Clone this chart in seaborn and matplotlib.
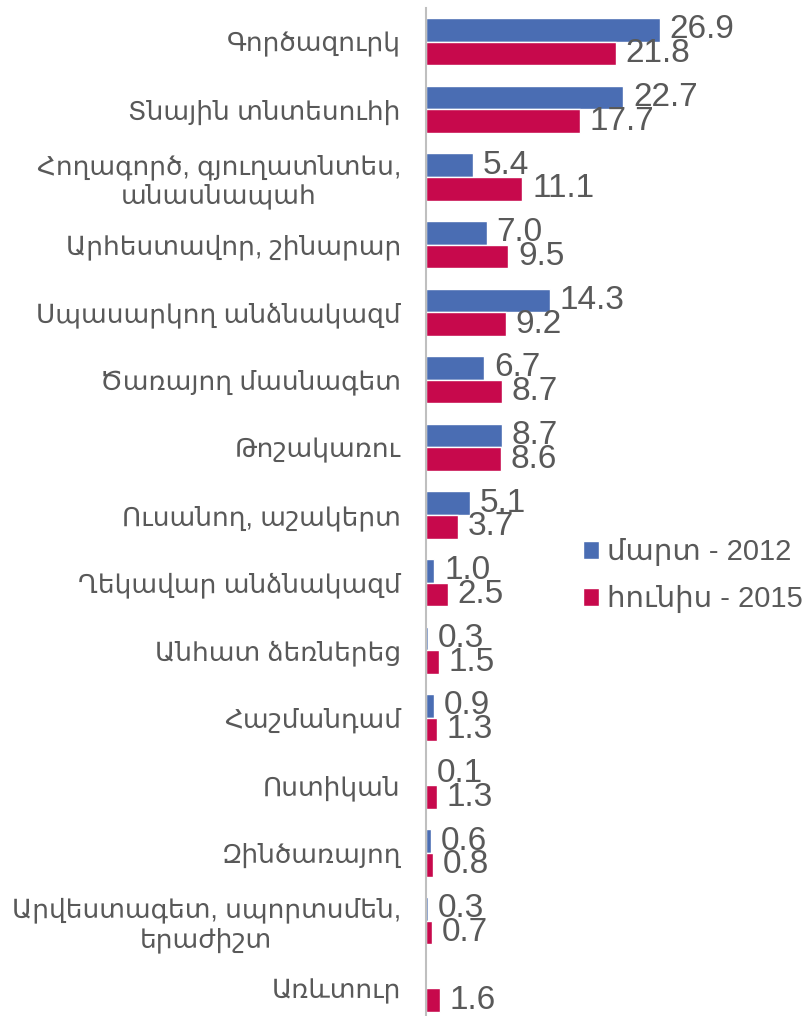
import pandas as pd
import matplotlib
matplotlib.use("Agg")
import matplotlib.pyplot as plt
import seaborn as sns

# data
kategorianer = [
    "Գործազուրկ",
    "Տնային տնտեսուհի",
    "Հողագործ, գյուղատնտես,\nանասնապահ",
    "Արհեստավոր, շինարար",
    "Սպասարկող անձնակազմ",
    "Ծառայող մասնագետ",
    "Թոշակառու",
    "Ուսանող, աշակերտ",
    "Ղեկավար անձնակազմ",
    "Անհատ ձեռներեց",
    "Հաշմանդամ",
    "Ոստիկան",
    "Զինծառայող",
    "Արվեստագետ, սպորտսմեն,\nերաժիշտ",
    "Առևտուր",
]
# Առևտուր - 2012 արժեք չկա (0, առանց պիտակի)
mart_2012 = [26.9, 22.7, 5.4, 7.0, 14.3, 6.7, 8.7, 5.1, 1.0, 0.3, 0.9, 0.1, 0.6, 0.3, 0.0]
hunis_2015 = [21.8, 17.7, 11.1, 9.5, 9.2, 8.7, 8.6, 3.7, 2.5, 1.5, 1.3, 1.3, 0.8, 0.7, 1.6]
sharqer = ["մարտ - 2012", "հունիս - 2015"]
guyner = ["#4A6DB3", "#C7094C"]

df = pd.DataFrame({
    "kategoria": kategorianer * 2,
    "arjeq": mart_2012 + hunis_2015,
    "shark": [sharqer[0]] * len(kategorianer) + [sharqer[1]] * len(kategorianer),
})

sns.set_style("white")
plt.rcParams["font.family"] = ["Liberation Sans", "DejaVu Sans"]

fig = plt.figure(figsize=(8.11, 10.16), dpi=100)
ax = fig.add_axes([0.525, -0.0059, 0.322, 0.998])

sns.barplot(data=df, x="arjeq", y="kategoria", hue="shark", order=kategorianer,
            hue_order=sharqer, palette=guyner, saturation=1, width=0.7, orient="h",
            ax=ax, legend=True)

# value labels
for cont, vals in zip(ax.containers, [mart_2012, hunis_2015]):
    labs = ["" if v == 0 else f"{v:.1f}" for v in vals]
    ax.bar_label(cont, labels=labs, padding=7, fontsize=24, color="#595959")

ax.set_xlim(0, 30)
ax.set_ylim(len(kategorianer) - 0.5, -0.5)
ax.set_xlabel("")
ax.set_ylabel("")
ax.set_xticks([])
ax.tick_params(axis="y", length=0, pad=18, labelsize=19, labelcolor="#595959")
for t in ax.get_yticklabels():
    t.set_multialignment("center")

for s in ["top", "right", "bottom"]:
    ax.spines[s].set_visible(False)
ax.spines["left"].set_color("#BFBFBF")
ax.spines["left"].set_linewidth(1.5)

h, l = ax.get_legend_handles_labels()
ax.get_legend().remove()
fig.legend(h, l, loc="upper left", bbox_to_anchor=(0.686, 0.496), frameon=False,
           fontsize=21, labelcolor="#595959", handlelength=0.55, handleheight=0.55,
           handletextpad=0.3, labelspacing=0.65)

fig.savefig("out.png", dpi=100)
